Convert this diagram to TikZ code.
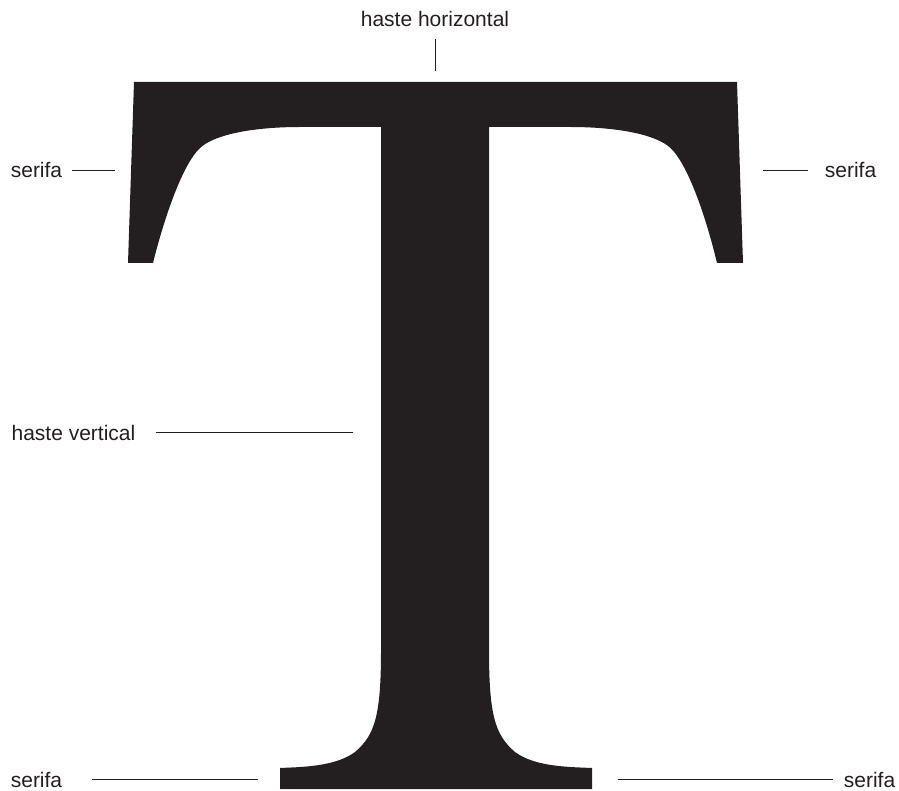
\documentclass[tikz,border=0pt]{standalone}
\usepackage{fontspec}
\setmainfont{Liberation Sans}
\usetikzlibrary{positioning}
\definecolor{ink}{HTML}{231F20}

\begin{document}
\begin{tikzpicture}[
  x=1pt,y=-1pt,
  glyph/.style={fill=ink,draw=none},
  leader/.style={draw=ink,line width=.9pt},
  partname/.style={font=\fontsize{21}{25}\selectfont,text=ink,inner sep=0pt,outer sep=#1}
]
  \useasboundingbox (0,0) rectangle (899,791);

  % the letter T
  \fill[glyph] (134,82) -- (737,82) -- (743,263) -- (717,263)
    .. controls (705.5,215) and (687.5,164) .. (670.5,148)
    .. controls (655.5,134) and (615.5,127) .. (570.5,127)
    -- (489,127) -- (489,650)
    .. controls (489,715) and (495,735) .. (515,752)
    .. controls (535,767) and (570,767) .. (592,768)
    -- (592,789) -- (280,789) -- (280,768)
    .. controls (300,767) and (335,767) .. (355,752)
    .. controls (375,735) and (381,715) .. (381,650)
    -- (381,127) -- (300,127)
    .. controls (255,127) and (215,134) .. (200,148)
    .. controls (183,164) and (165,215) .. (153,263)
    -- (128,263) -- cycle;

  % labels
  \node[partname=12pt,anchor=base] (hh) at (435,27) {haste horizontal};
  \node[partname=10pt,anchor=base] (serTL) at (36.5,178) {serifa};
  \node[partname=17pt,anchor=base] (serTR) at (850.5,178) {serifa};
  \node[partname=21pt,anchor=base] (hv) at (73.5,440) {haste vertical};
  \node[partname=30pt,anchor=base] (serBL) at (36.5,787) {serifa};
  \node[partname=11pt,anchor=base] (serBR) at (869.5,787) {serifa};

  \coordinate (hhTip) at (435,71);
  \coordinate (serTLTip) at (115,171);
  \coordinate (serTRTip) at (763,171);
  \coordinate (hvTip) at (353,431);
  \coordinate (serBLTip) at (258,777);
  \coordinate (serBRTip) at (618,777);

  \draw[leader] (hh) -- (hh |- hhTip);
  \draw[leader] (serTL) -- (serTL -| serTLTip);
  \draw[leader] (serTR) -- (serTR -| serTRTip);
  \draw[leader] (hv) -- (hv -| hvTip);
  \draw[leader] (serBL) -- (serBL -| serBLTip);
  \draw[leader] (serBR) -- (serBR -| serBRTip);
\end{tikzpicture}
\end{document}
